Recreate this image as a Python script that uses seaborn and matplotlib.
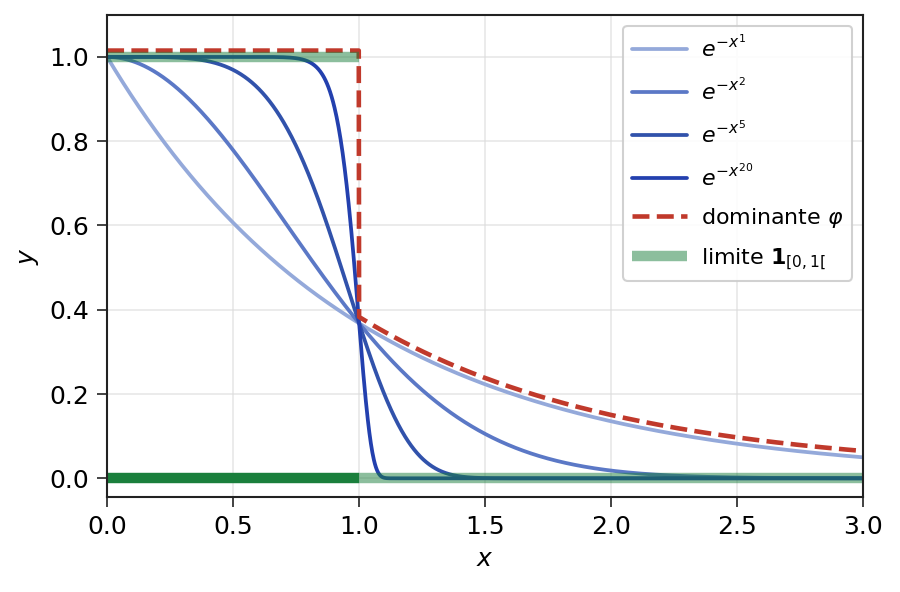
import numpy as np
import pandas as pd
import matplotlib
matplotlib.use("Agg")
import matplotlib.pyplot as plt
import seaborn as sns

# exponents n of the curves e^{-x^n}
exponents = [1, 2, 5, 20]
curve_colors = ["#94a9da", "#5b78c6", "#3152ab", "#2340ae"]
x_range = (0.0, 3.0)
phi_offset = 0.015  # dominant curve drawn slightly above for visibility
limit_x = [0.0, 1.0, 3.0]

sns.set_style("white")
plt.rcParams['font.family'] = ['DejaVu Sans']
plt.rcParams['text.color'] = 'black'
plt.rcParams['axes.labelcolor'] = 'black'
plt.rcParams['xtick.color'] = '#222222'
plt.rcParams['ytick.color'] = '#222222'
plt.rcParams['xtick.labelcolor'] = 'black'
plt.rcParams['ytick.labelcolor'] = 'black'

x = np.linspace(x_range[0], x_range[1], 1500)
rows = []
for n in exponents:
    rows.append(pd.DataFrame({"x": x, "y": np.exp(-x ** n), "f": f"$e^{{-x^{{{n}}}}}$"}))
df = pd.concat(rows, ignore_index=True)

fig, ax = plt.subplots(figsize=(6, 3.947), dpi=150)
fig.subplots_adjust(left=0.119, right=0.959, top=0.975, bottom=0.160)

sns.lineplot(data=df, x="x", y="y", hue="f", palette=curve_colors, lw=1.8, ax=ax)

# dominant phi
x_left = x[x <= 1.0]
x_right = x[x >= 1.0]
phi_x = np.concatenate([x_left, [1.0], x_right])
phi_y = np.concatenate([np.ones_like(x_left) + phi_offset, [np.exp(-1.0) + phi_offset],
                        np.exp(-x_right) + phi_offset])
ax.plot(phi_x, phi_y, color="#c0392b", ls="--", lw=2.2, label=r"dominante $\varphi$")

# limit indicator function
green = "#1a7f3c"
ax.plot(limit_x[:2], [1, 1], color=green, lw=5, alpha=0.5, solid_capstyle="butt",
        label=r"limite $\mathbf{1}_{[0,1[}$")
ax.plot(limit_x[1:], [0, 0], color=green, lw=5, alpha=0.5, solid_capstyle="butt")
ax.plot(limit_x[:2], [0, 0], color=green, lw=5, solid_capstyle="butt")

ax.set_xlim(*x_range)
ax.set_ylim(-0.045, 1.1)
ax.set_xlabel("$x$", fontsize=12)
ax.set_ylabel("$y$", fontsize=12)
ax.tick_params(labelsize=12, length=5, direction="out", left=True, bottom=True)
ax.grid(True, color="#dddddd", lw=0.8, alpha=0.7)
for s in ax.spines.values():
    s.set_color("#222222")
    s.set_linewidth(1.0)

ax.legend(loc="upper right", fontsize=10.6, framealpha=0.9, edgecolor="#cccccc",
          handlelength=2.5, labelspacing=0.74, handletextpad=0.6)

fig.savefig("out.png", dpi=150)
